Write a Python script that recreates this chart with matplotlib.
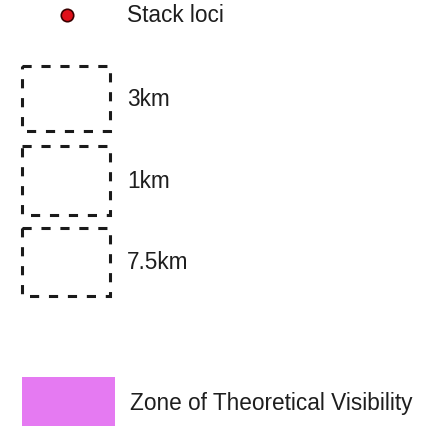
import matplotlib
matplotlib.use("Agg")
import matplotlib.pyplot as plt
from matplotlib.patches import Rectangle

plt.rcParams["font.family"] = ["Liberation Sans", "DejaVu Sans"]

# legend entries
point_label = "Stack loci"
buffer_labels = ["3km", "1km", "7.5km"]
zone_label = "Zone of Theoretical Visibility"

POINT_COLOR, POINT_EDGE = "#E0101A", "#3A0000"
ZONE_COLOR = "#E57AF2"
TEXT_COLOR = "#1e1e1e"

# layout (pixels, origin top-left)
W, H = 446, 427
BOX_X0, BOX_X1 = 22, 110
box_rows = [(67, 132), (147, 216), (229, 297)]
TEXT_X = 127
FS = 16.3

fig = plt.figure(figsize=(W / 100, H / 100), dpi=100)
ax = fig.add_axes([0, 0, 1, 1])
ax.set_xlim(0, W)
ax.set_ylim(H, 0)
ax.axis("off")

# stack loci marker
ax.scatter([67], [16], s=80, color=POINT_COLOR, edgecolor=POINT_EDGE, linewidth=1.2, zorder=3)
ax.text(TEXT_X, 16, point_label, fontsize=FS, color=TEXT_COLOR, va="center", ha="left")

# dashed buffer boxes
for (y0, y1), lab in zip(box_rows, buffer_labels):
    ax.add_patch(Rectangle((BOX_X0, y0), BOX_X1 - BOX_X0, y1 - y0, fill=False,
                           edgecolor="#1a1a1a", linewidth=2.2, linestyle=(0, (3.0, 3.2))))
    ax.text(TEXT_X, (y0 + y1) / 2, lab, fontsize=FS, color=TEXT_COLOR, va="center", ha="left")

# ZTV swatch
ax.add_patch(Rectangle((22, 378), 93, 50, facecolor=ZONE_COLOR, edgecolor="none"))
ax.text(130, 404, zone_label, fontsize=FS, color=TEXT_COLOR, va="center", ha="left")

fig.savefig("out.png", dpi=100, facecolor="white")
